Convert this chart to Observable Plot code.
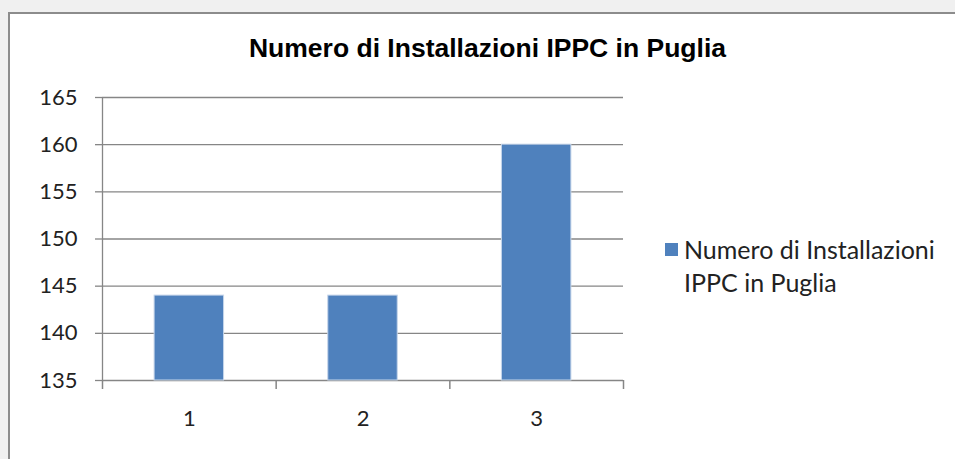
<!DOCTYPE html>
<html>
<head>
<meta charset="utf-8">
<script src="https://cdn.jsdelivr.net/npm/d3@7"></script>
<script src="https://cdn.jsdelivr.net/npm/@observablehq/plot@0.6"></script>
<style>
  html, body { margin: 0; padding: 0; width: 955px; height: 459px; overflow: hidden; background: #f0f0f0; }
  #frame { position: absolute; left: 8px; top: 12px; width: 1000px; height: 500px; background: #fff; border: 2px solid #8c8c8c; box-sizing: border-box; }
  #title { position: absolute; left: 0; width: 975px; top: 33px; text-align: center; font: bold 26.5px "Liberation Sans", Arial, sans-serif; color: #000; white-space: nowrap; }
  #chart { position: absolute; left: 0; top: 0; }
  #legend { position: absolute; left: 665px; top: 233px; font: 25px Lato, "Open Sans", sans-serif; color: #222; line-height: 33px; white-space: nowrap; }
  #legend .sw { position: absolute; left: 0; top: 10px; width: 13px; height: 13px; background: #4f81bd; }
  #legend .tx { margin-left: 19px; }
</style>
</head>
<body>
<div id="frame"></div>
<div id="title">Numero di Installazioni IPPC in Puglia</div>
<div id="chart"></div>
<div id="legend"><div class="sw"></div><div class="tx">Numero di Installazioni<br>IPPC in Puglia</div></div>
<script>
const categories = [1, 2, 3];
const values = [144, 144, 160];
const yTicks = [135, 140, 145, 150, 155, 160, 165];
const boundaries = [0.5, 1.5, 2.5, 3.5];
const seriesName = "Numero di Installazioni IPPC in Puglia";

const data = categories.map((c, i) => ({c, v: values[i]}));
const grid = "#868686";

const chart = Plot.plot({
  width: 955,
  height: 459,
  marginLeft: 102,
  marginRight: 332,
  marginTop: 97,
  marginBottom: 79,
  style: {background: "transparent", fontFamily: "Lato, 'Open Sans', sans-serif", fontSize: "22px", color: "#222"},
  x: {type: "linear", domain: [0.5, 3.5]},
  y: {type: "linear", domain: [135, 165]},
  marks: [
    Plot.ruleY(yTicks, {y: d => d, stroke: grid, strokeWidth: 1.3}),
    Plot.rectY(data, {x1: d => d.c - 0.2, x2: d => d.c + 0.2, y1: () => 135, y2: "v", fill: "#4f81bd", stroke: "#c6d6ea", strokeWidth: 1}),
    Plot.ruleX([0.5], {x: d => d, y1: () => 165, y2: () => 135, stroke: grid, strokeWidth: 1.3}),
    Plot.ruleX(boundaries, {x: d => d, y1: () => 135, y2: () => 135, insetBottom: -9, stroke: grid, strokeWidth: 1.5}),
    Plot.axisX({tickSize: 0, tickPadding: 30, ticks: categories, tickFormat: d => String(d), label: null}),
    Plot.axisY({tickSize: 7, tickPadding: 18, ticks: yTicks, label: null, stroke: grid, strokeWidth: 1.3})
  ]
});
document.getElementById("chart").appendChild(chart);
</script>
</body>
</html>
